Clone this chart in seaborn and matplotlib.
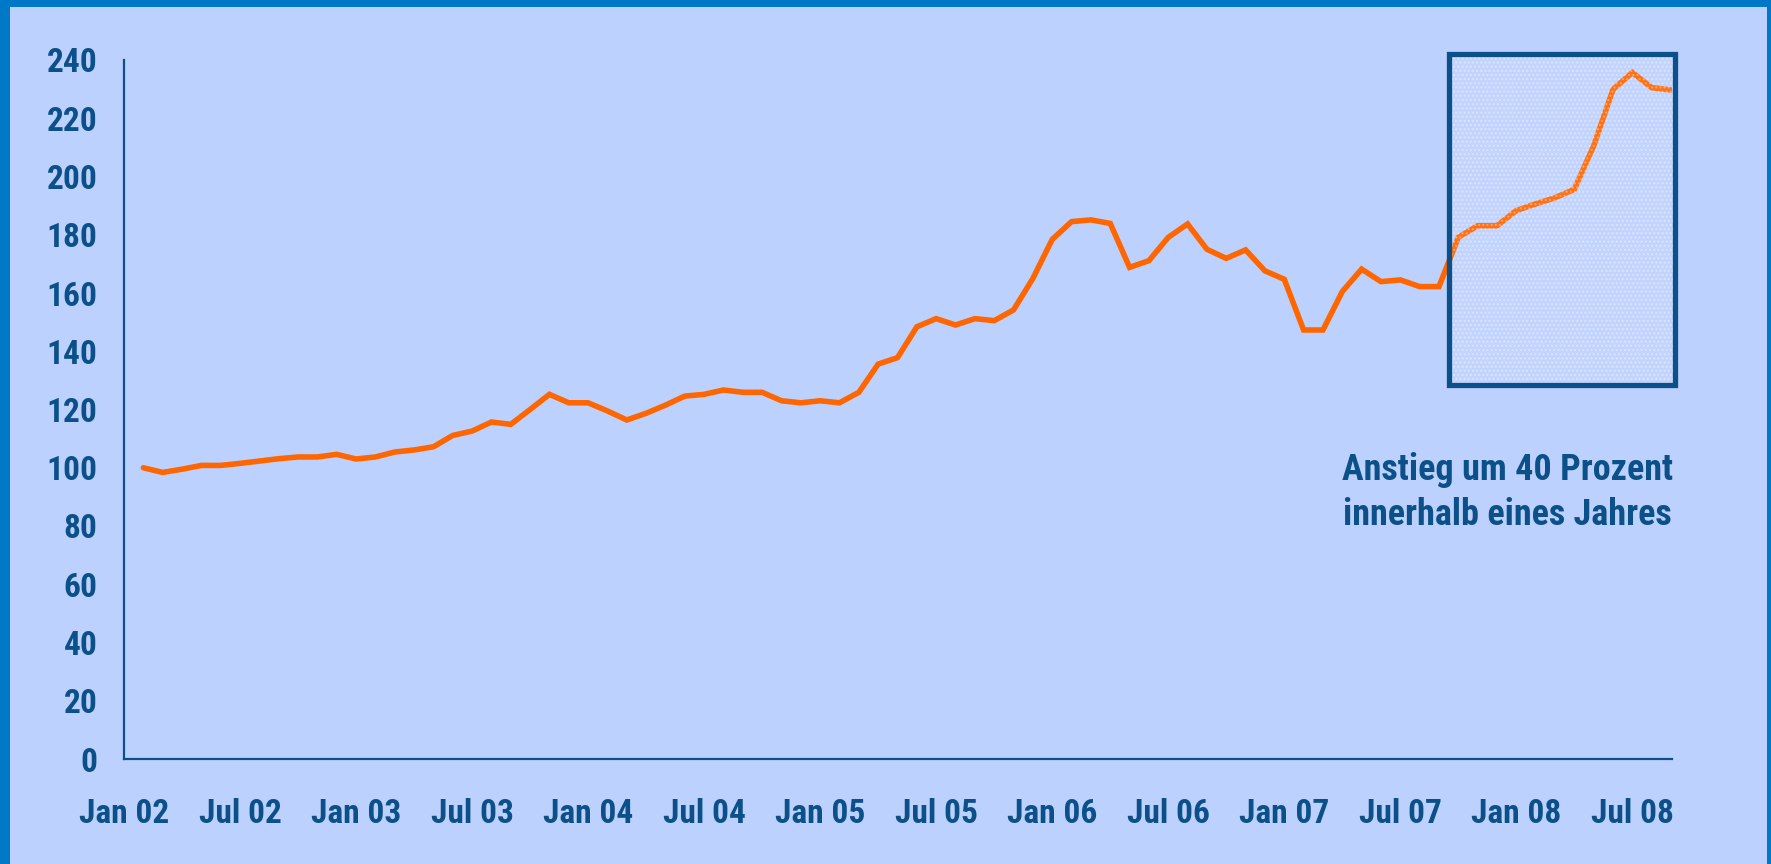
import os
import numpy as np
import pandas as pd
import seaborn as sns
import matplotlib.pyplot as plt
from matplotlib import font_manager
from matplotlib.patches import Rectangle

# monthly index values, Feb 2002 .. Sep 2008
dates = pd.date_range('2002-02-01', periods=80, freq='MS')
index_values = [
    100.0, 98.4, 99.5, 100.8, 100.8, 101.5, 102.3, 103.1, 103.7, 103.7,
    104.6, 103.0, 103.7, 105.4, 106.1, 107.2, 111.1, 112.6, 115.7, 114.9,
    120.0, 125.2, 122.3, 122.3, 119.5, 116.4, 118.7, 121.5, 124.6, 125.2,
    126.7, 125.9, 125.9, 123.0, 122.3, 123.0, 122.3, 125.9, 135.6, 137.8,
    148.4, 151.2, 149.0, 151.2, 150.5, 154.2, 165.0, 178.4, 184.5, 185.1,
    183.9, 168.8, 171.1, 179.1, 183.7, 175.0, 171.9, 174.8, 167.6, 164.7,
    147.3, 147.3, 160.5, 168.2, 163.9, 164.5, 162.2, 162.2, 179.1, 183.1,
    183.1, 188.3, 190.6, 192.7, 195.6, 210.5, 229.9, 235.7, 230.5, 229.7,
]
tick_labels = ['Jan 02', 'Jul 02', 'Jan 03', 'Jul 03', 'Jan 04', 'Jul 04', 'Jan 05',
               'Jul 05', 'Jan 06', 'Jul 06', 'Jan 07', 'Jul 07', 'Jan 08', 'Jul 08']
y_ticks = [0, 20, 40, 60, 80, 100, 120, 140, 160, 180, 200, 220, 240]
note = 'Anstieg um 40 Prozent\ninnerhalb eines Jahres'

border = '#0078C8'
panel = '#BDD1FE'
navy = '#0B5088'
orange = '#FF6600'

sns.set_style('white')
plt.rcParams['font.family'] = ['Liberation Sans', 'DejaVu Sans']
plt.rcParams['font.weight'] = 'bold'


# the original uses a narrow bold face; look for a condensed font file
def narrow_font():
    files = [f.fname for f in font_manager.fontManager.ttflist]
    files += font_manager.findSystemFonts()
    wanted = ['liberationsansnarrow-bold.', 'robotocondensed-bold.',
              'notosans-condensedbold.', 'opensans-condensedbold.',
              'opensans_condensed-bold.', 'dejavusanscondensed-bold.']
    for w in wanted:
        for f in files:
            if os.path.basename(f).lower().startswith(w):
                return f
    return None


font_file = narrow_font()
if font_file:
    fp = font_manager.FontProperties(fname=font_file, size=24)
    fp_note = font_manager.FontProperties(fname=font_file, size=26)
else:
    fp = font_manager.FontProperties(family='Liberation Sans', weight='bold', size=22)
    fp_note = font_manager.FontProperties(family='Liberation Sans', weight='bold', size=22)

df = pd.DataFrame({'month': (dates.year - 2002) * 12 + dates.month - 1,
                   'value': index_values})

W, H = 1771, 864
fig = plt.figure(figsize=(W / 100, H / 100), dpi=100, facecolor=border)
fig.patches.append(Rectangle((10 / W, 0), 1757 / W, 857 / H, transform=fig.transFigure,
                             facecolor=panel, edgecolor='none', zorder=-10))
ax = fig.add_axes([124 / W, 105 / H, 1548 / W, 699 / H])
ax.set_facecolor('none')

sns.lineplot(data=df, x='month', y='value', color=orange, linewidth=4, ax=ax,
             solid_joinstyle='miter')

ax.set_xlim(0, 80.05)
ax.set_ylim(0, 240)
ax.set_xticks(range(0, 79, 6))
ax.set_xticklabels(tick_labels)
ax.set_yticks(y_ticks)
ax.set_xlabel('')
ax.set_ylabel('')
for s in ['top', 'right']:
    ax.spines[s].set_visible(False)
for s in ['left', 'bottom']:
    ax.spines[s].set_color(navy)
    ax.spines[s].set_linewidth(1.6)
ax.tick_params(direction='out', length=8, width=1.6, color=navy, labelcolor=navy)
ax.tick_params(axis='y', pad=11)
ax.tick_params(axis='x', pad=20)
for lbl in ax.get_xticklabels() + ax.get_yticklabels():
    lbl.set_fontproperties(fp)

# highlighted last year
hl = dict(xy=(68.5, 128.3), width=11.7, height=113.9, clip_on=False)
ax.add_patch(Rectangle(**hl, facecolor=(1, 1, 1, 0.08), edgecolor=(1, 1, 1, 0.35),
                       hatch='....', linewidth=0, zorder=3))
ax.add_patch(Rectangle(**hl, fill=False, edgecolor=navy, linewidth=3.8, zorder=4))

ax.text(71.55, 91.5, note, ha='center', va='center', multialignment='center',
        fontproperties=fp_note, color=navy, linespacing=1.3)

fig.savefig('out.png', dpi=100, facecolor=border)
